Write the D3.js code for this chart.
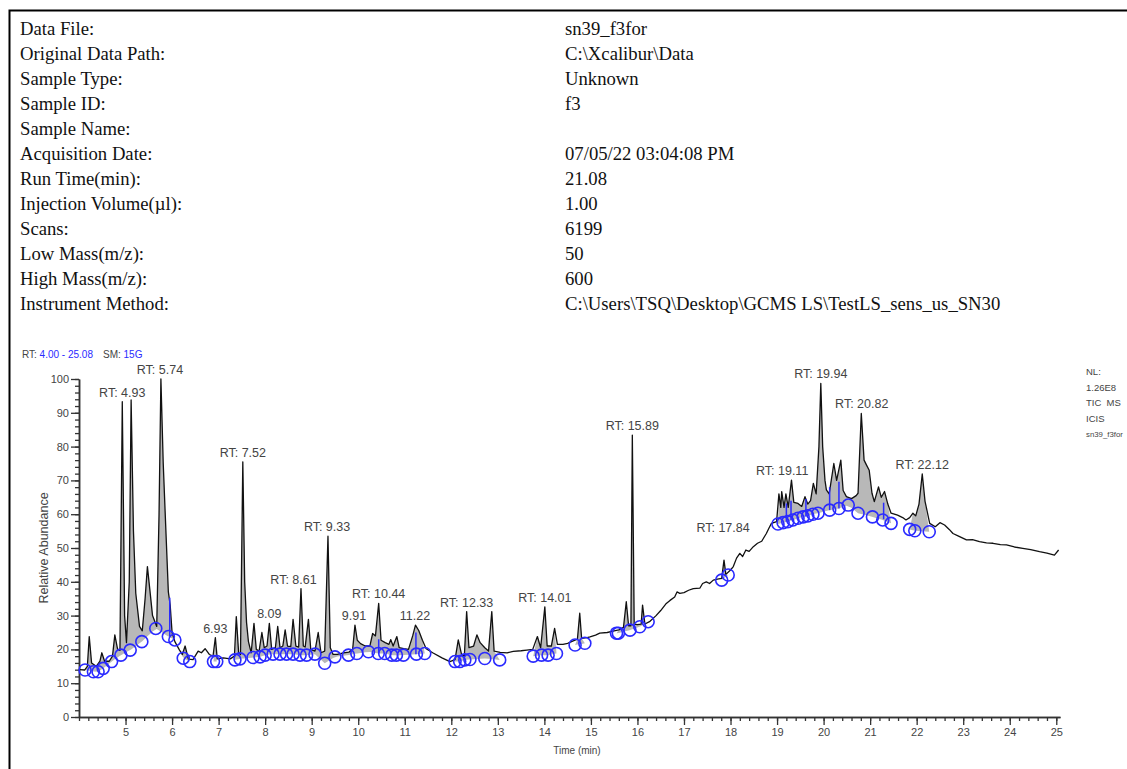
<!DOCTYPE html>
<html>
<head>
<meta charset="utf-8">
<script src="https://cdn.jsdelivr.net/npm/d3@7"></script>
<style>
  body { margin: 0; background: #fff; }
</style>
</head>
<body>
<div id="root"></div>
<script>
// header block of the report
var headerFields = ['Data File:', 'Original Data Path:', 'Sample Type:', 'Sample ID:', 'Sample Name:',
  'Acquisition Date:', 'Run Time(min):', 'Injection Volume(µl):', 'Scans:', 'Low Mass(m/z):',
  'High Mass(m/z):', 'Instrument Method:'];
var headerValues = ['sn39_f3for', 'C:\\Xcalibur\\Data', 'Unknown', 'f3', '', '07/05/22 03:04:08 PM',
  '21.08', '1.00', '6199', '50', '600', 'C:\\Users\\TSQ\\Desktop\\GCMS LS\\TestLS_sens_us_SN30'];

var nlLines = ['NL:', '1.26E8', 'TIC  MS', 'ICIS', 'sn39_f3for'];

// TIC trace
var rtTimes = [4.02, 4.12, 4.18, 4.22, 4.27, 4.37, 4.45, 4.49, 4.55, 4.65, 4.72, 4.77, 4.83, 4.88, 4.93, 4.98,
  5.02, 5.08, 5.12, 5.17, 5.22, 5.30, 5.36, 5.42, 5.47, 5.52, 5.58, 5.67, 5.72, 5.76, 5.81, 5.85, 5.92, 5.96,
  6.00, 6.06, 6.16, 6.22, 6.28, 6.35, 6.45, 6.56, 6.63, 6.71, 6.80, 6.88, 6.93, 6.97, 7.10, 7.25, 7.34, 7.38,
  7.43, 7.47, 7.52, 7.56, 7.60, 7.64, 7.70, 7.76, 7.81, 7.87, 7.93, 7.98, 8.04, 8.09, 8.14, 8.22, 8.27, 8.32,
  8.38, 8.43, 8.48, 8.55, 8.60, 8.66, 8.72, 8.77, 8.82, 8.86, 8.93, 8.98, 9.07, 9.14, 9.20, 9.28, 9.35, 9.40,
  9.46, 9.55, 9.68, 9.80, 9.88, 9.93, 9.98, 10.05, 10.15, 10.25, 10.31, 10.37, 10.44, 10.49, 10.58, 10.66,
  10.70, 10.75, 10.83, 10.88, 10.98, 11.08, 11.17, 11.23, 11.30, 11.38, 11.46, 11.60, 11.80, 11.97, 12.08,
  12.15, 12.22, 12.28, 12.33, 12.38, 12.48, 12.55, 12.62, 12.72, 12.80, 12.87, 12.92, 13.05, 13.20, 13.33,
  13.50, 13.62, 13.75, 13.85, 13.92, 14.01, 14.06, 14.15, 14.22, 14.28, 14.40, 14.50, 14.62, 14.71, 14.76,
  14.80, 14.92, 14.98, 15.10, 15.19, 15.35, 15.50, 15.60, 15.70, 15.76, 15.81, 15.86, 15.89, 15.93, 16.00,
  16.08, 16.11, 16.16, 16.27, 16.40, 16.50, 16.62, 16.70, 16.80, 16.85, 16.91, 17.00, 17.10, 17.20, 17.34,
  17.40, 17.48, 17.55, 17.63, 17.72, 17.81, 17.86, 17.90, 18.00, 18.06, 18.13, 18.20, 18.26, 18.33, 18.40,
  18.49, 18.58, 18.67, 18.77, 18.83, 18.88, 18.99, 19.04, 19.08, 19.10, 19.15, 19.19, 19.24, 19.31, 19.36,
  19.45, 19.53, 19.60, 19.66, 19.72, 19.78, 19.84, 19.90, 19.94, 19.98, 20.03, 20.06, 20.12, 20.22, 20.28,
  20.37, 20.42, 20.49, 20.60, 20.70, 20.74, 20.81, 20.87, 20.92, 20.98, 21.04, 21.09, 21.18, 21.24, 21.31,
  21.38, 21.45, 21.59, 21.70, 21.77, 21.85, 21.92, 21.98, 22.05, 22.12, 22.18, 22.28, 22.40, 22.50, 22.60,
  22.70, 22.78, 22.90, 23.07, 23.20, 23.35, 23.50, 23.64, 23.80, 23.93, 24.10, 24.28, 24.45, 24.64, 24.80,
  24.96, 25.05];
var abundance = [14.0, 13.9, 15.0, 23.8, 16.0, 15.0, 16.5, 19.0, 16.5, 16.5, 18.0, 24.3, 20.0, 19.7, 93.3, 30.0,
  22.0, 40.0, 93.8, 55.0, 36.6, 26.8, 25.5, 35.0, 44.5, 38.0, 30.0, 26.8, 60.0, 100.0, 75.0, 61.0, 37.0, 33.0,
  25.0, 22.3, 19.8, 18.5, 21.0, 17.1, 17.0, 19.5, 19.0, 20.2, 18.5, 18.0, 23.5, 17.2, 17.5, 17.2, 18.0, 29.7,
  19.0, 18.5, 75.5, 40.0, 28.0, 22.4, 19.0, 27.7, 20.0, 19.5, 25.0, 20.5, 21.0, 27.7, 20.0, 20.5, 26.8, 20.5,
  21.0, 25.8, 21.0, 20.8, 28.9, 21.0, 20.7, 38.0, 21.0, 20.7, 28.9, 20.0, 19.5, 25.0, 19.0, 19.5, 53.5, 20.5,
  18.5, 18.5, 19.0, 19.2, 20.0, 27.2, 22.7, 21.7, 21.0, 21.0, 24.7, 24.0, 33.6, 22.7, 22.0, 21.5,
  22.9, 21.0, 23.8, 20.5, 20.2, 20.0, 24.0, 27.2, 25.6, 22.7, 20.2, 19.0, 17.5, 16.4, 17.0,
  22.8, 18.5, 18.0, 31.2, 20.5, 21.0, 24.3, 22.0, 20.5, 19.5, 31.2, 19.5, 19.1, 19.0, 19.4,
  19.6, 19.8, 20.0, 23.8, 20.5, 32.6, 21.0, 21.0, 26.2, 21.5, 21.5, 21.8, 22.5, 23.0, 30.7,
  23.3, 23.5, 23.7, 24.2, 24.8, 25.0, 25.5, 25.8, 26.5, 34.1, 27.0, 27.0, 83.4, 27.5, 27.3,
  27.5, 33.1, 27.5, 28.3, 30.0, 31.5, 33.6, 34.5, 35.5, 37.0, 36.6, 36.8, 37.5, 38.0, 38.1,
  39.5, 40.0, 39.5, 40.5, 40.8, 41.0, 46.4, 42.2, 43.5, 44.5, 47.0, 48.4, 47.5, 49.4, 49.0,
  50.4, 51.4, 52.0, 54.3, 56.0, 57.3, 57.8, 66.0, 62.0, 66.7, 62.0, 66.0, 62.0, 70.1, 63.5,
  63.2, 62.3, 65.2, 63.0, 64.0, 69.1, 66.0, 80.0, 98.7, 80.0, 70.0, 67.2, 66.0, 75.0, 70.0,
  76.0, 67.0, 65.2, 64.6, 65.5, 66.2, 89.8, 76.0, 74.6, 73.0, 66.2, 63.7, 68.1, 65.0, 66.7,
  63.0, 60.3, 59.7, 59.0, 58.3, 59.0, 60.3, 59.5, 63.0, 71.9, 63.8, 57.3, 56.3, 57.5, 56.8,
  55.5, 54.3, 53.5, 52.4, 52.5, 51.9, 51.5, 51.4, 51.0, 50.9, 50.3, 49.9, 49.5, 48.9, 48.5,
  47.9, 49.4];

// peak annotations
var peakLabelText = ['RT: 4.93', 'RT: 5.74', '6.93', 'RT: 7.52', '8.09', 'RT: 8.61', 'RT: 9.33', '9.91',
  'RT: 10.44', '11.22', 'RT: 12.33', 'RT: 14.01', 'RT: 15.89', 'RT: 17.84', 'RT: 19.11', 'RT: 19.94',
  'RT: 20.82', 'RT: 22.12'];
var peakLabelTimes = [4.93, 5.74, 6.93, 7.52, 8.09, 8.61, 9.33, 9.91, 10.44, 11.22, 12.33, 14.01, 15.89,
  17.84, 19.11, 19.94, 20.82, 22.12];
var peakLabelHeights = [93.3, 100.0, 23.5, 75.5, 27.7, 38.0, 53.5, 27.2, 33.6, 27.2, 31.2, 32.6, 83.4,
  53.3, 70.1, 98.7, 89.8, 71.9];

// integration boundaries (blue circles)
var boundaryTimes = [4.13, 4.31, 4.41, 4.52, 4.70, 4.90, 5.10, 5.35, 5.65, 5.92, 6.06, 6.24, 6.38, 6.89, 6.96,
  7.35, 7.46, 7.74, 7.89, 8.00, 8.17, 8.32, 8.46, 8.60, 8.75, 8.89, 9.07, 9.28, 9.50, 9.79, 9.97, 10.22,
  10.43, 10.57, 10.72, 10.82, 10.97, 11.25, 11.43, 12.08, 12.18, 12.29, 12.40, 12.72, 13.04, 13.76, 13.94,
  14.08, 14.26, 14.66, 14.87, 15.55, 15.59, 15.84, 16.05, 16.23, 17.81, 17.95, 19.02, 19.13, 19.23, 19.34,
  19.45, 19.56, 19.66, 19.77, 19.88, 20.13, 20.33, 20.53, 20.74, 21.05, 21.27, 21.45, 21.85, 21.96, 22.27];
var boundaryHeights = [13.9, 13.4, 13.4, 14.4, 16.4, 18.3, 19.8, 22.3, 26.2, 23.8, 22.8, 17.4, 16.4, 16.4, 16.4,
  16.9, 17.2, 17.6, 17.8, 18.3, 18.6, 18.6, 18.6, 18.6, 18.3, 18.3, 18.6, 15.9, 17.8, 18.3, 18.8, 19.3,
  18.8, 18.8, 18.3, 18.3, 18.3, 18.6, 18.8, 16.4, 16.4, 16.9, 17.0, 17.3, 16.9, 18.0, 18.3,
  18.3, 18.8, 21.3, 21.8, 24.8, 24.8, 25.7, 26.7, 28.2, 40.5, 42.0, 57.1, 57.5, 57.8, 58.3,
  58.8, 59.2, 59.5, 60.0, 60.3, 61.2, 61.7, 62.7, 60.3, 59.2, 58.3, 57.3, 55.5, 55.1, 54.8];

// blue peak markers (vertical strokes)
var markerTimes = [5.95, 10.44, 11.24, 19.20, 19.30, 19.62, 20.13, 20.33, 21.29];
var markerLow = [23.8, 18.8, 18.6, 57.8, 58.3, 59.3, 61.2, 61.7, 58.5];
var markerHigh = [35.3, 23.0, 25.0, 63.2, 64.0, 64.5, 68.0, 69.6, 63.4];

var xTickLabels = [5, 6, 7, 8, 9, 10, 11, 12, 13, 14, 15, 16, 17, 18, 19, 20, 21, 22, 23, 24, 25];
var yTickLabels = [0, 10, 20, 30, 40, 50, 60, 70, 80, 90, 100];

var width = 1127, height = 769;

var svg = d3.select('#root')
  .append('svg')
    .attr('width', width)
    .attr('height', height)
    .style('display', 'block');

// page frame (left and top edges visible)
svg.append('path')
  .attr('d', 'M9.5,' + height + 'V10.5H' + width)
  .attr('fill', 'none')
  .attr('stroke', '#000')
  .attr('stroke-width', 2);

var serif = '"Liberation Serif", "Times New Roman", serif';
var sans = '"Liberation Sans", Arial, sans-serif';

headerFields.forEach((f, i) => {
  svg.append('text')
    .attr('x', 20)
    .attr('y', 35 + i * 25)
    .attr('font-family', serif)
    .attr('font-size', 18.7)
    .attr('fill', '#111')
    .text(f);
  svg.append('text')
    .attr('x', 565)
    .attr('y', 35 + i * 25)
    .attr('font-family', serif)
    .attr('font-size', 18.7)
    .attr('fill', '#111')
    .text(headerValues[i]);
});

// scales
var x = d3.scaleLinear().domain([4, 25.08]).range([79, 1060]);
var y = d3.scaleLinear().domain([0, 100]).range([717, 379]);

// range / smoothing caption
var cap = svg.append('text')
  .attr('x', 22)
  .attr('y', 358)
  .attr('font-family', sans)
  .attr('font-size', 10);
cap.append('tspan').attr('fill', '#444').text('RT: ');
cap.append('tspan').attr('fill', '#2a2aff').text('4.00 - 25.08');
cap.append('tspan').attr('fill', '#444').attr('dx', 10).text('SM: ');
cap.append('tspan').attr('fill', '#2a2aff').text('15G');

nlLines.forEach((t, i) => {
  svg.append('text')
    .attr('x', 1086)
    .attr('y', 375 + i * 15.5)
    .attr('font-family', sans)
    .attr('font-size', t.length > 8 ? 7.8 : 9.5)
    .attr('fill', '#444')
    .attr('xml:space', 'preserve')
    .text(t);
});

// gray integrated areas between trace and boundary baseline
var trace = rtTimes.map((t, i) => [t, abundance[i]]);
var groups = [];
boundaryTimes.forEach((t, i) => {
  if (i === 0 || t - boundaryTimes[i - 1] > 0.36) groups.push([]);
  groups[groups.length - 1].push([t, boundaryHeights[i]]);
});
groups.filter(g => g.length > 1).forEach(g => {
  var base = d3.scaleLinear().domain(g.map(d => d[0])).range(g.map(d => d[1]));
  var t0 = g[0][0], t1 = g[g.length - 1][0];
  var pts = [[t0, base(t0)]].concat(trace.filter(d => d[0] > t0 && d[0] < t1), [[t1, base(t1)]]);
  svg.append('path')
    .datum(pts)
    .attr('fill', '#b8b8b8')
    .attr('d', d3.area()
      .x(d => x(d[0]))
      .y0(d => y(base(d[0])))
      .y1(d => y(Math.max(d[1], base(d[0])))));
});

// axes
var yAxisMinor = d3.axisLeft(y).tickValues(d3.range(0, 101, 2)).tickSize(4).tickFormat('').tickSizeOuter(0);
var yAxisMajor = d3.axisLeft(y).tickValues(yTickLabels).tickSize(8).tickSizeOuter(0).tickPadding(2);
var xAxisMinor = d3.axisBottom(x).tickValues(d3.range(4, 25.01, 0.2)).tickSize(4).tickFormat('').tickSizeOuter(0);
var xAxisMajor = d3.axisBottom(x).tickValues(xTickLabels).tickSize(8).tickSizeOuter(0).tickPadding(3);

[yAxisMinor, yAxisMajor].forEach(ax => {
  svg.append('g')
    .attr('transform', 'translate(79,0)')
    .call(ax)
    .call(g => g.select('.domain').attr('stroke', '#333').attr('stroke-width', 1.5))
    .call(g => g.selectAll('line').attr('stroke', '#333').attr('stroke-width', 1.3))
    .call(g => g.selectAll('text').attr('font-family', sans).attr('font-size', 11).attr('fill', '#444'));
});
[xAxisMinor, xAxisMajor].forEach(ax => {
  svg.append('g')
    .attr('transform', 'translate(0,717)')
    .call(ax)
    .call(g => g.select('.domain').attr('stroke', '#333').attr('stroke-width', 1.5))
    .call(g => g.selectAll('line').attr('stroke', '#333').attr('stroke-width', 1.3))
    .call(g => g.selectAll('text').attr('font-family', sans).attr('font-size', 11).attr('fill', '#444'));
});

svg.append('text')
  .attr('transform', 'translate(48,548) rotate(-90)')
  .attr('text-anchor', 'middle')
  .attr('font-family', sans)
  .attr('font-size', 12.5)
  .attr('fill', '#444')
  .text('Relative Abundance');

svg.append('text')
  .attr('x', 577)
  .attr('y', 754)
  .attr('text-anchor', 'middle')
  .attr('font-family', sans)
  .attr('font-size', 10)
  .attr('fill', '#444')
  .text('Time (min)');

// trace
svg.append('path')
  .datum(trace)
  .attr('fill', 'none')
  .attr('stroke', '#111')
  .attr('stroke-width', 1.3)
  .attr('stroke-linejoin', 'round')
  .attr('d', d3.line().x(d => x(d[0])).y(d => y(d[1])));

// blue peak markers
svg.selectAll('line.marker')
  .data(markerTimes)
  .enter()
  .append('line')
    .attr('class', 'marker')
    .attr('x1', d => x(d))
    .attr('x2', d => x(d))
    .attr('y1', (d, i) => y(markerLow[i]))
    .attr('y2', (d, i) => y(markerHigh[i]))
    .attr('stroke', '#2a2aff')
    .attr('stroke-width', 1.5);

svg.selectAll('circle.bound')
  .data(boundaryTimes)
  .enter()
  .append('circle')
    .attr('class', 'bound')
    .attr('cx', d => x(d))
    .attr('cy', (d, i) => y(boundaryHeights[i]))
    .attr('r', 6)
    .attr('fill', 'none')
    .attr('stroke', '#2a2aff')
    .attr('stroke-width', 1.6);

// peak labels
svg.selectAll('text.peak')
  .data(peakLabelText)
  .enter()
  .append('text')
    .attr('class', 'peak')
    .attr('x', (d, i) => x(peakLabelTimes[i]))
    .attr('y', (d, i) => y(peakLabelHeights[i]) - 5)
    .attr('text-anchor', 'middle')
    .attr('font-family', sans)
    .attr('font-size', 12.5)
    .attr('fill', '#444')
    .text(d => d);
</script>
</body>
</html>
